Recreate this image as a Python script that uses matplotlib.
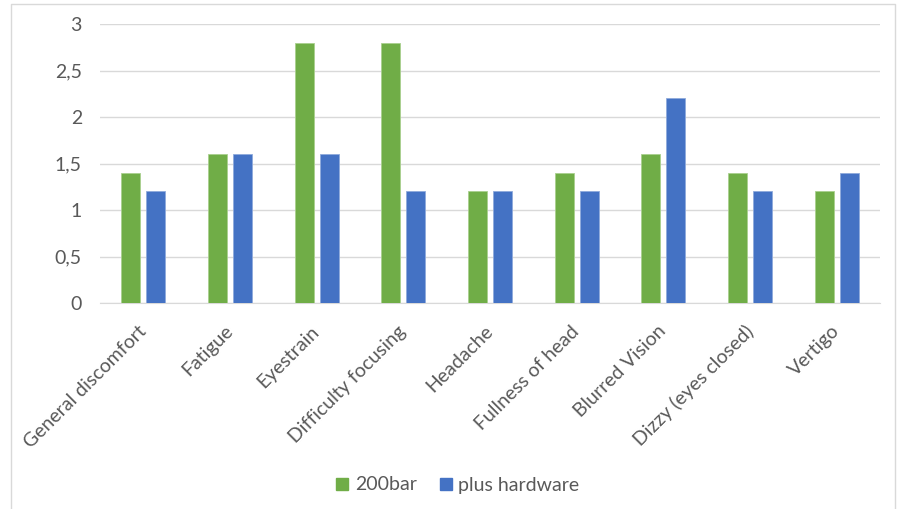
import numpy as np
import matplotlib.pyplot as plt
from matplotlib.lines import Line2D
from matplotlib.ticker import FuncFormatter
from matplotlib.transforms import ScaledTranslation

symptoms = ["General discomfort", "Fatigue", "Eyestrain", "Difficulty focusing",
            "Headache", "Fullness of head", "Blurred Vision", "Dizzy (eyes closed)", "Vertigo"]
bar200 = [1.4, 1.6, 2.8, 2.8, 1.2, 1.4, 1.6, 1.4, 1.2]
hardware = [1.2, 1.6, 1.6, 1.2, 1.2, 1.2, 2.2, 1.2, 1.4]
series_names = ["200bar", "plus hardware"]

green = "#70AD47"
blue = "#4472C4"
txt = "#595959"

plt.rcParams['font.family'] = ['Lato', 'DejaVu Sans']

fig = plt.figure(figsize=(8.99, 5.09), dpi=100)
ax = fig.add_axes([100/899, 1-303/509, 780/899, 279/509])

x = np.arange(len(symptoms))
w = 0.22
off = 0.145
ax.bar(x - off, bar200, w, color=green, edgecolor="#a9d08e", linewidth=0.6, label=series_names[0], zorder=3)
ax.bar(x + off, hardware, w, color=blue, edgecolor="#8faadc", linewidth=0.6, label=series_names[1], zorder=3)

ax.set_xlim(-0.5, len(symptoms) - 0.5)
ax.set_ylim(0, 3)
ax.set_yticks(np.arange(0, 3.01, 0.5))
ax.yaxis.set_major_formatter(FuncFormatter(lambda v, p: ("%g" % v).replace(".", ",")))
ax.grid(axis="y", color="#d9d9d9", linewidth=1, zorder=0)
for s in ["top", "right", "left"]:
    ax.spines[s].set_visible(False)
ax.spines["bottom"].set_color("#d9d9d9")
ax.tick_params(axis="both", length=0, colors=txt, labelsize=14)
ax.tick_params(axis="y", pad=13)

ax.set_xticks(x)
ax.set_xticklabels(symptoms, rotation=45, ha="right", va="top", rotation_mode="anchor")
ax.tick_params(axis="x", pad=14)
shift = ScaledTranslation(-6/100, 0, fig.dpi_scale_trans)
for lab in ax.get_xticklabels():
    lab.set_transform(lab.get_transform() + shift)

handles = [Line2D([], [], marker="s", linestyle="", markersize=8, color=c) for c in (green, blue)]
fig.legend(handles, series_names, loc="center", bbox_to_anchor=(457/899, 1-485/509), ncol=2,
           frameon=False, fontsize=14, labelcolor=txt, handlelength=0.8, handletextpad=0.25,
           columnspacing=1.1)

# outer chart frame (left, top, right)
fx = [11/899, 11/899, 895/899, 895/899]
fy = [0, 1-4/509, 1-4/509, 0]
fig.add_artist(Line2D(fx, fy, transform=fig.transFigure, color="#d9d9d9", linewidth=1))

fig.savefig("out.png", dpi=100, facecolor="white")
